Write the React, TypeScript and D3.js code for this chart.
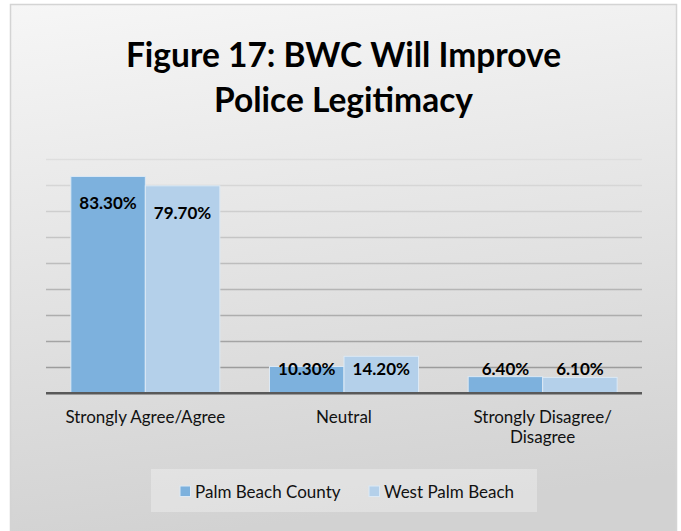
import React from "react";
import * as d3 from "d3";

const categories = ["Strongly Agree/Agree", "Neutral", "Strongly Disagree/\nDisagree"];
const seriesNames = ["Palm Beach County", "West Palm Beach"];
const palmBeachCounty = [0.833, 0.103, 0.064];
const westPalmBeach = [0.797, 0.142, 0.061];
const yTicks = [0, 0.1, 0.2, 0.3, 0.4, 0.5, 0.6, 0.7, 0.8, 0.9];
const colors = ["#7DB1DD", "#B4D0EA"];

const W = 681, H = 531;
const FONT = "Lato, 'Open Sans', sans-serif";

export default function App() {
  const x0 = d3.scaleBand<string>().domain(categories).range([46, 642]).paddingInner(0).paddingOuter(0);
  const x1 = d3.scaleBand<string>().domain(seriesNames).range([0, x0.bandwidth()]).paddingInner(0).paddingOuter(1 / 3);
  const y = d3.scaleLinear().domain([0, 0.9]).range([393.3, 159]);
  const gridColor = d3.scaleLinear<string>().domain([0.9, 0.1]).range(["#DEDEDE", "#9C9C9C"]);
  const values = [palmBeachCounty, westPalmBeach];
  const fmt = d3.format(".2%");

  return (
    <svg width={W} height={H} style={{ position: "absolute", left: 0, top: 0 }} fontFamily={FONT}>
      <defs>
        <linearGradient id="bg" x1="0" y1="0" x2="0.15" y2="1">
          <stop offset="0" stopColor="#F6F6F6" />
          <stop offset="1" stopColor="#D2D2D2" />
        </linearGradient>
      </defs>
      <rect x={0} y={0} width={W} height={H} fill="#fff" />
      <rect x={10.5} y={4.5} width={666} height={540} fill="url(#bg)" stroke="#D4D4D4" strokeWidth={1.5} />
      <text x={343.5} y={67} textAnchor="middle" fontSize={33.5} fontWeight="bold" fill="#000">
        Figure 17: BWC Will Improve
      </text>
      <text x={343.5} y={112} textAnchor="middle" fontSize={33.5} fontWeight="bold" fill="#000">
        Police Legitimacy
      </text>
      {yTicks.filter((t) => t > 0).map((t) => (
        <line key={t} x1={46} x2={642} y1={Math.round(y(t)) + 0.5} y2={Math.round(y(t)) + 0.5} stroke={gridColor(t)} strokeWidth={1.5} />
      ))}
      {categories.map((c, ci) =>
        seriesNames.map((s, si) => {
          const v = values[si][ci];
          const bx = (x0(c) as number) + (x1(s) as number);
          const top = y(v);
          return (
            <rect key={c + s} x={bx} y={top} width={x1.bandwidth()} height={y(0) - top} fill={colors[si]} stroke="#DCE9F5" strokeWidth={1} />
          );
        })
      )}
      <line x1={46} x2={642} y1={393.3} y2={393.3} stroke="#595959" strokeWidth={2.5} />
      {categories.map((c, ci) =>
        seriesNames.map((s, si) => {
          const v = values[si][ci];
          const cx = (x0(c) as number) + (x1(s) as number) + x1.bandwidth() / 2;
          const ty = Math.min(y(v) + 33, 375);
          return (
            <text key={"l" + c + s} x={cx} y={ty} textAnchor="middle" fontSize={17} fontWeight="bold" fill="#000">
              {fmt(v)}
            </text>
          );
        })
      )}
      {categories.map((c) => {
        const lines = c.split("\n");
        const cx = (x0(c) as number) + x0.bandwidth() / 2;
        return (
          <text key={"c" + c} x={cx} y={423} textAnchor="middle" fontSize={17} fill="#111">
            {lines.map((ln, i) => (
              <tspan key={i} x={cx} dy={i === 0 ? 0 : 20}>{ln}</tspan>
            ))}
          </text>
        );
      })}
      <rect x={151} y={469} width={386} height={43} fill="#fff" fillOpacity={0.3} />
      {seriesNames.map((s, i) => {
        const lx = [180, 369][i];
        return (
          <g key={"lg" + s}>
            <rect x={lx} y={486} width={10.5} height={10.5} fill={colors[i]} stroke="#DCE9F5" strokeWidth={1} />
            <text x={lx + 15} y={498} fontSize={17} fill="#111">{s}</text>
          </g>
        );
      })}
    </svg>
  );
}
